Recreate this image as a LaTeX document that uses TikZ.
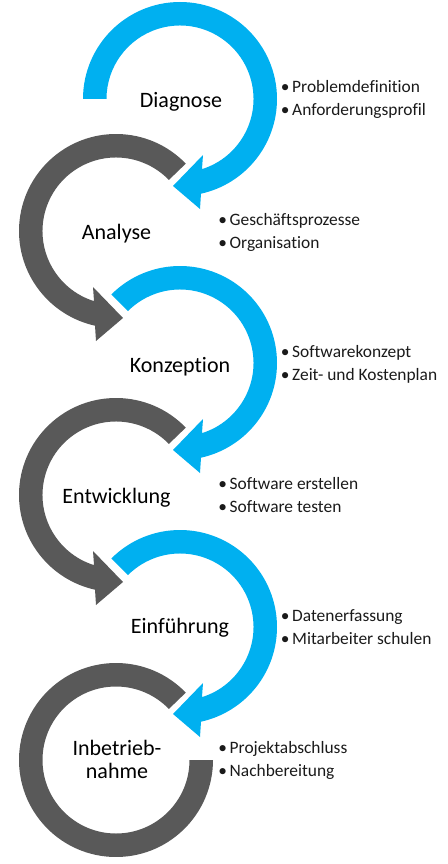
\documentclass[tikz,border=0pt]{standalone}
\usepackage{fontspec}
\setmainfont{Carlito}[Ligatures=CommonOff]
\definecolor{ablue}{HTML}{00B0F0}
\definecolor{agray}{HTML}{595959}
\definecolor{txt}{HTML}{1A1A1A}
\tikzset{
  lbl/.style={font=\fontsize{22}{23}\selectfont, text=black, inner sep=0pt, anchor=base},
  itm/.style={font=\fontsize{17.4}{20}\selectfont, text=txt, inner sep=0pt, anchor=base west},
  bluering/.style={fill=ablue},
  grayring/.style={fill=agray},
}
\newcommand{\bul}{\llap{\textbullet\hspace{2.6pt}}}
\begin{document}
\begin{tikzpicture}[x=1pt,y=1pt]
\useasboundingbox (0,0) rectangle (447,-864);
% blue rings (clockwise)
\fill[bluering, shift={(180,-99)}] (180:97) arc[start angle=180, end angle=-77.5, radius=97]
  -- (20,-110) -- (-7,-87) -- (23,-56) -- (-72.6:73.5)
  arc[start angle=-72.6, end angle=180, radius=73.5] -- cycle;
\foreach \cy in {363,627}{
\fill[bluering, shift={(180,-\cy)}] (135:97) arc[start angle=135, end angle=-77.5, radius=97]
  -- (20,-110) -- (-7,-87) -- (23,-56) -- (-72.6:73.5)
  arc[start angle=-72.6, end angle=135, radius=73.5] -- cycle;
}
% gray rings (counterclockwise)
\foreach \cy in {231,495}{
\fill[grayring, shift={(116,-\cy)}] (44:97) arc[start angle=44, end angle=257.5, radius=97]
  -- (-20,-110) -- (7,-87) -- (-23,-56) -- (252.6:73.5)
  arc[start angle=252.6, end angle=44, radius=73.5] -- cycle;
}
\fill[grayring, shift={(116,-760)}] (44:97) arc[start angle=44, end angle=360, radius=97]
  -- (0:73.5) arc[start angle=360, end angle=44, radius=73.5] -- cycle;
% labels
\node[lbl] (diag) at (181,-108) {Diagnose};
\node[lbl] (anal) at (116.5,-239) {Analyse};
\node[lbl] (konz) at (180,-372) {Konzeption};
\node[lbl] (entw) at (116.5,-503) {Entwicklung};
\node[lbl] (einf) at (180,-633) {Einführung};
\node[lbl] (inb1) at (117,-755) {Inbetrieb-};
\node[lbl] (inb2) at (117,-778) {nahme};
% bullet items
\node[itm] (p1) at (292,-93) {\bul Problemdefinition};
\node[itm] (p2) at (292,-116) {\bul Anforderungsprofil};
\node[itm] (a1) at (229.5,-225) {\bul Geschäftsprozesse};
\node[itm] (a2) at (229.5,-248) {\bul Organisation};
\node[itm] (k1) at (292,-357) {\bul Softwarekonzept};
\node[itm] (k2) at (292,-380) {\bul Zeit- und Kostenplan};
\node[itm] (e1) at (229.5,-489) {\bul Software erstellen};
\node[itm] (e2) at (229.5,-512) {\bul Software testen};
\node[itm] (f1) at (292,-621) {\bul Datenerfassung};
\node[itm] (f2) at (292,-644) {\bul Mitarbeiter schulen};
\node[itm] (i1) at (229.5,-753) {\bul Projektabschluss};
\node[itm] (i2) at (229.5,-776) {\bul Nachbereitung};
\end{tikzpicture}
\end{document}
